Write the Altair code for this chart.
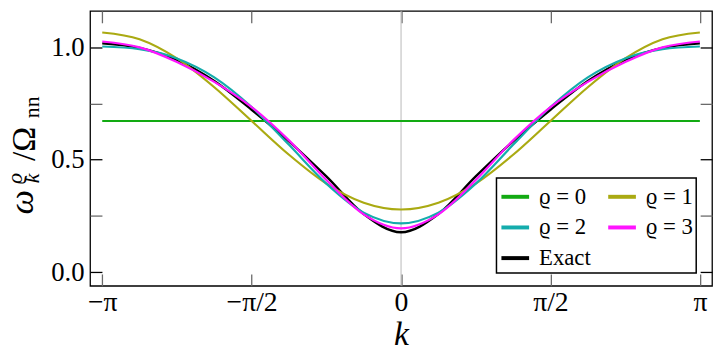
import altair as alt
import pandas as pd

# ---------------- data ----------------
k_vals = [-3.1416, -2.7489, -2.3562, -1.9635, -1.5708, -1.1781, -0.7854, -0.3927, 0.0,
          0.3927, 0.7854, 1.1781, 1.5708, 1.9635, 2.3562, 2.7489, 3.1416]
rho0 = [0.672, 0.672, 0.672, 0.672, 0.672, 0.672, 0.672, 0.672, 0.672,
        0.672, 0.672, 0.672, 0.672, 0.672, 0.672, 0.672, 0.672]
rho1 = [1.065, 1.035, 0.950, 0.822, 0.672, 0.522, 0.394, 0.309, 0.279,
        0.309, 0.394, 0.522, 0.672, 0.822, 0.950, 1.035, 1.065]
rho2 = [1.003, 0.991, 0.950, 0.866, 0.734, 0.566, 0.394, 0.265, 0.217,
        0.265, 0.394, 0.566, 0.734, 0.866, 0.950, 0.991, 1.003]
rho3 = [1.025, 0.999, 0.934, 0.846, 0.734, 0.586, 0.410, 0.257, 0.195,
        0.257, 0.410, 0.586, 0.734, 0.846, 0.934, 0.999, 1.025]
exact = [1.017, 0.997, 0.943, 0.850, 0.722, 0.582, 0.426, 0.259, 0.178,
         0.259, 0.426, 0.582, 0.722, 0.850, 0.943, 0.997, 1.017]

series_names = ["ϱ = 0", "ϱ = 1", "ϱ = 2", "ϱ = 3", "Exact"]
series_colors = ["#12aa12", "#aaaa12", "#14acac", "#ff14ff", "#000000"]

x_tick_vals = [-3.14159, -1.5708, 0.0, 1.5708, 3.14159]
x_tick_labels = ["−π", "−π/2", "0", "π/2", "π"]
y_major = [0.0, 0.5, 1.0]
y_minor = [0.25, 0.75]
k_zero = [0.0]

# ---------------- tables ----------------
rows = []
for name, vals in zip(series_names, [rho0, rho1, rho2, rho3, exact]):
    for kk, vv in zip(k_vals, vals):
        rows.append({"k": kk, "w": vv, "series": name})
df = pd.DataFrame(rows)
df_exact = df[df["series"] == "Exact"]
df_rho = df[df["series"] != "Exact"]
df_zero = pd.DataFrame({"k": k_zero})

FONT = "Liberation Serif"
xscale = alt.Scale(domain=[-3.2695, 3.2695], nice=False, zero=False)
yscale = alt.Scale(domain=[-0.06, 1.161], nice=False, zero=False)
cscale = alt.Scale(domain=series_names, range=series_colors)

label_expr = ""
for v, lab in zip(x_tick_vals, x_tick_labels):
    label_expr += f"abs(datum.value - ({v})) < 0.01 ? '{lab}' : "
label_expr += "''"

legend = alt.Legend(title=None, orient="none", legendX=411, legendY=169, columns=2,
                    direction="horizontal",
                    symbolType="stroke", symbolStrokeWidth=4, symbolSize=784,
                    labelFont=FONT, labelFontSize=23, labelColor="black", labelOffset=8,
                    rowPadding=3, columnPadding=9, padding=3,
                    strokeColor="black", fillColor="white", cornerRadius=0)
color_enc = alt.Color("series:N", scale=cscale, legend=legend)

TICK_GRAY = "#6a6a6a"


def X(axis):
    return alt.X("k:Q", scale=xscale, axis=axis)


def Y(axis):
    return alt.Y("w:Q", scale=yscale, axis=axis)


def tick_axis(orient, values, color):
    return alt.Axis(orient=orient, values=values, labels=False, domain=False, grid=False,
                    ticks=True, tickSize=12, offset=-12, tickColor=color, tickWidth=1.3,
                    title=None)


def title_axis(text, tx, ty, size, italic):
    return alt.Axis(orient="left", labels=False, ticks=False, domain=False, grid=False,
                    title=text, titleX=tx, titleY=ty, titleAngle=270, titleAlign="center",
                    titleBaseline="alphabetic", titleFont=FONT, titleFontSize=size,
                    titleFontWeight="normal", titleFontStyle="italic" if italic else "normal",
                    titleColor="black")


# vertical line at k = 0, also carries the top ticks
rule = alt.Chart(df_zero).mark_rule(color="#b8b8b8", strokeWidth=1).encode(
    x=X(tick_axis("top", x_tick_vals, TICK_GRAY))
)

exact_layer = alt.Chart(df_exact).mark_line(strokeWidth=2.4, interpolate="monotone").encode(
    x=X(alt.Axis(orient="bottom", values=x_tick_vals, labelExpr=label_expr, domain=False,
                 grid=False, tickSize=12, offset=-12, tickColor=TICK_GRAY, tickWidth=1.3,
                 labelFont=FONT, labelFontSize=28, labelColor="black", labelPadding=3,
                 title="k", titleFont=FONT, titleFontSize=34, titleFontStyle="italic",
                 titleFontWeight="normal", titleColor="black", titlePadding=1)),
    y=Y(alt.Axis(orient="left", values=y_major, format=".1f", domain=False, grid=False,
                 tickSize=12, offset=-12, tickColor="black", tickWidth=1.3,
                 labelFont=FONT, labelFontSize=27, labelColor="black", labelPadding=6,
                 title=None)),
    color=color_enc,
)

rho_layer = alt.Chart(df_rho).mark_line(strokeWidth=2.2, interpolate="monotone").encode(
    x=X(None),
    y=Y(tick_axis("left", y_minor, TICK_GRAY)),
    color=color_enc,
)


def ghost(yaxis):
    return alt.Chart(df_exact).mark_line(opacity=0).encode(x=X(None), y=Y(yaxis))


layers = [
    rule,
    exact_layer,
    rho_layer,
    ghost(tick_axis("right", y_major, "black")),
    ghost(tick_axis("right", y_minor, TICK_GRAY)),
    ghost(title_axis("ω", -58, 193, 35, True)),
    ghost(title_axis("ϱ", -69, 169, 22, True)),
    ghost(title_axis("k", -52, 169, 22, True)),
    ghost(title_axis("/Ω", -56, 134, 34, False)),
    ghost(title_axis("nn", -52, 97, 22, False)),
]

chart = alt.layer(*layers).resolve_axis(x="independent", y="independent").properties(
    width=629, height=278,
    padding={"left": 83, "top": 1, "right": 3, "bottom": 64},
    autosize=alt.AutoSizeParams(type="none"),
).configure(font=FONT).configure_axis(labelFont=FONT, titleFont=FONT).configure_view(
    stroke="black", strokeWidth=1.3
).configure_legend(strokeWidth=1.5, labelFont=FONT)

chart.save("out.html", embed_options={"renderer": "svg", "actions": False})
